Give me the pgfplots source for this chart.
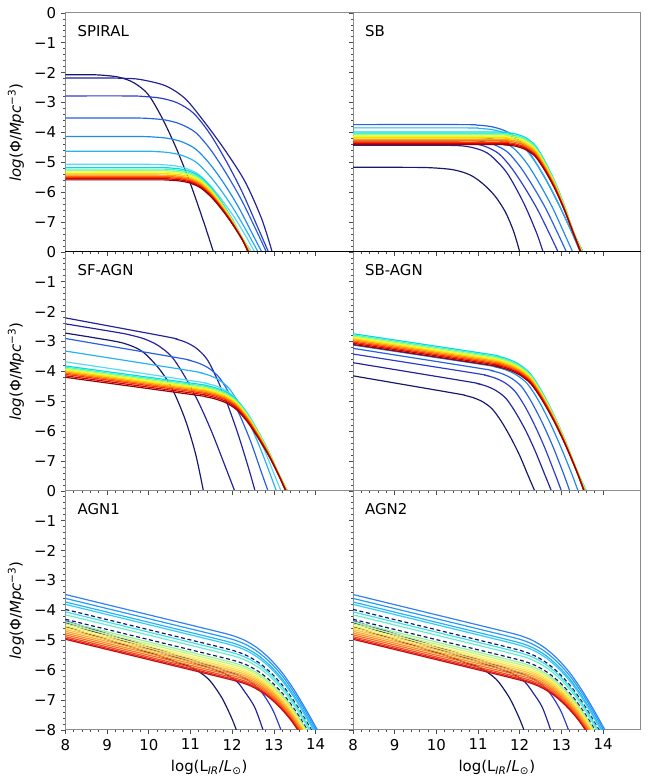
\documentclass[border=0pt]{standalone}
\usepackage{fontspec}
\setmainfont{DejaVu Sans}
\usepackage{pgfplots}
\pgfplotsset{compat=1.18}
\usepgfplotslibrary{groupplots}

\definecolor{nA}{rgb}{0.10,0.10,0.42}
\definecolor{nB}{rgb}{0.14,0.14,0.60}
\definecolor{nC}{rgb}{0.18,0.24,0.78}
\definecolor{nD}{rgb}{0.15,0.38,0.88}
\definecolor{nE}{rgb}{0.12,0.55,0.92}
\definecolor{nF}{rgb}{0.15,0.70,0.95}
\definecolor{nG}{rgb}{0.35,0.85,0.95}
\definecolor{b1}{rgb}{0.00,0.85,0.95}
\definecolor{b2}{rgb}{0.30,0.95,0.75}
\definecolor{b3}{rgb}{0.60,1.00,0.45}
\definecolor{b4}{rgb}{0.90,1.00,0.15}
\definecolor{b5}{rgb}{1.00,0.85,0.00}
\definecolor{b6}{rgb}{1.00,0.65,0.00}
\definecolor{b7}{rgb}{1.00,0.45,0.00}
\definecolor{b8}{rgb}{1.00,0.20,0.00}
\definecolor{b9}{rgb}{0.85,0.00,0.00}
\definecolor{b10}{rgb}{0.60,0.00,0.00}
\definecolor{a1}{rgb}{0.20,0.50,0.95}
\definecolor{a2}{rgb}{0.15,0.60,0.95}
\definecolor{a3}{rgb}{0.15,0.70,0.95}
\definecolor{a4}{rgb}{0.20,0.80,0.95}
\definecolor{a6}{rgb}{0.25,0.87,0.90}
\definecolor{a7}{rgb}{0.40,0.92,0.80}
\definecolor{a9}{rgb}{0.58,0.95,0.60}
\definecolor{a10}{rgb}{0.78,0.96,0.45}
\definecolor{a11}{rgb}{0.95,0.95,0.35}
\definecolor{a12}{rgb}{1.00,0.86,0.28}
\definecolor{a13}{rgb}{1.00,0.76,0.22}
\definecolor{a14}{rgb}{1.00,0.66,0.16}
\definecolor{a15}{rgb}{1.00,0.55,0.10}
\definecolor{a16}{rgb}{1.00,0.42,0.10}
\definecolor{a17}{rgb}{0.95,0.30,0.10}
\definecolor{a18}{rgb}{0.90,0.15,0.10}
\definecolor{a19}{rgb}{0.80,0.05,0.05}

\newcommand{\agncurves}{%
\addplot[nA] coordinates {(8,-4.55)(10.2,-5.5)(10.63,-5.72)(11.03,-5.91)(11.43,-6.3)(11.75,-6.92)(11.98,-7.58)(12.10,-8)};
\addplot[nB] coordinates {(8,-4.42)(11.0,-5.72)(11.4,-5.9)(11.8,-6.1)(12.11,-6.38)(12.30,-6.72)(12.54,-7.24)(12.74,-8)};
\addplot[nC] coordinates {(8,-4.35)(11.4,-5.82)(11.8,-6.0)(12.2,-6.2)(12.5,-6.45)(12.75,-6.82)(12.98,-7.35)(13.17,-8)};
\addplot[nA,densely dashed] coordinates {(8,-3.97)(11.2,-5.058)(11.6,-5.194)(12.065,-5.362)(12.365,-5.524)(12.665,-5.776)(12.965,-6.138)(13.265,-6.61)(13.565,-7.212)(13.865,-7.914)(14.165,-8.666)};
\addplot[nA,densely dashed] coordinates {(8,-4.30)(11.2,-5.388)(11.6,-5.524)(12.11,-5.707)(12.41,-5.869)(12.71,-6.121)(13.01,-6.483)(13.31,-6.955)(13.61,-7.557)(13.91,-8.259)};
\addplot[a1] coordinates {(8,-3.47)(11.2,-4.558)(11.6,-4.694)(12.0,-4.84)(12.3,-5.002)(12.6,-5.254)(12.9,-5.616)(13.2,-6.088)(13.5,-6.69)(13.8,-7.392)(14.1,-8.144)};
\addplot[a2] coordinates {(8,-3.60)(11.2,-4.688)(11.6,-4.824)(12.02,-4.977)(12.32,-5.139)(12.62,-5.391)(12.92,-5.753)(13.22,-6.225)(13.52,-6.827)(13.82,-7.529)(14.12,-8.281)};
\addplot[a3] coordinates {(8,-3.72)(11.2,-4.808)(11.6,-4.944)(12.03,-5.10)(12.33,-5.262)(12.63,-5.514)(12.93,-5.876)(13.23,-6.348)(13.53,-6.95)(13.83,-7.652)(14.13,-8.404)};
\addplot[a4] coordinates {(8,-3.80)(11.2,-4.888)(11.6,-5.024)(12.04,-5.184)(12.34,-5.346)(12.64,-5.598)(12.94,-5.96)(13.24,-6.432)(13.54,-7.034)(13.84,-7.736)(14.14,-8.488)};
\addplot[a6] coordinates {(8,-4.05)(11.2,-5.138)(11.6,-5.274)(12.075,-5.446)(12.375,-5.608)(12.675,-5.86)(12.975,-6.222)(13.275,-6.694)(13.575,-7.296)(13.875,-7.998)(14.175,-8.75)};
\addplot[a7] coordinates {(8,-4.15)(11.2,-5.238)(11.6,-5.374)(12.09,-5.551)(12.39,-5.713)(12.69,-5.965)(12.99,-6.327)(13.29,-6.799)(13.59,-7.401)(13.89,-8.103)};
\addplot[a9] coordinates {(8,-4.38)(11.2,-5.468)(11.6,-5.604)(12.12,-5.791)(12.42,-5.953)(12.72,-6.205)(13.02,-6.567)(13.32,-7.039)(13.62,-7.641)(13.92,-8.343)};
\addplot[a10] coordinates {(8,-4.45)(11.2,-5.538)(11.6,-5.674)(12.13,-5.864)(12.43,-6.026)(12.73,-6.278)(13.03,-6.64)(13.33,-7.112)(13.63,-7.714)(13.93,-8.416)};
\addplot[a11] coordinates {(8,-4.52)(11.2,-5.608)(11.6,-5.744)(12.14,-5.938)(12.44,-6.1)(12.74,-6.352)(13.04,-6.714)(13.34,-7.186)(13.64,-7.788)(13.94,-8.49)};
\addplot[a12] coordinates {(8,-4.58)(11.2,-5.668)(11.6,-5.804)(12.15,-6.001)(12.45,-6.163)(12.75,-6.415)(13.05,-6.777)(13.35,-7.249)(13.65,-7.851)(13.95,-8.553)};
\addplot[a13] coordinates {(8,-4.64)(11.2,-5.728)(11.6,-5.864)(12.155,-6.063)(12.455,-6.225)(12.755,-6.477)(13.055,-6.839)(13.355,-7.311)(13.655,-7.913)(13.955,-8.615)};
\addplot[a14] coordinates {(8,-4.70)(11.2,-5.788)(11.6,-5.924)(12.165,-6.126)(12.465,-6.288)(12.765,-6.54)(13.065,-6.902)(13.365,-7.374)(13.665,-7.976)(13.965,-8.678)};
\addplot[a15] coordinates {(8,-4.76)(11.2,-5.848)(11.6,-5.984)(12.17,-6.188)(12.47,-6.35)(12.77,-6.602)(13.07,-6.964)(13.37,-7.436)(13.67,-8.038)};
\addplot[a16] coordinates {(8,-4.82)(11.2,-5.908)(11.6,-6.044)(12.18,-6.251)(12.48,-6.413)(12.78,-6.665)(13.08,-7.027)(13.38,-7.499)(13.68,-8.101)};
\addplot[a17] coordinates {(8,-4.88)(11.2,-5.968)(11.6,-6.104)(12.185,-6.313)(12.485,-6.475)(12.785,-6.727)(13.085,-7.089)(13.385,-7.561)(13.685,-8.163)};
\addplot[a18] coordinates {(8,-4.93)(11.2,-6.018)(11.6,-6.154)(12.19,-6.365)(12.49,-6.527)(12.79,-6.779)(13.09,-7.141)(13.39,-7.613)(13.69,-8.215)};
\addplot[a19] coordinates {(8,-4.97)(11.2,-6.058)(11.6,-6.194)(12.2,-6.408)(12.5,-6.57)(12.8,-6.822)(13.1,-7.184)(13.4,-7.656)(13.7,-8.258)};
}

\begin{document}
\fontsize{11.3}{13.5}\selectfont
\begin{tikzpicture}
\begin{groupplot}[
  group style={group size=2 by 3, horizontal sep=0pt, vertical sep=0pt,
    xticklabels at=edge bottom, yticklabels at=edge left},
  width=217.5pt, height=180.75pt, scale only axis,
  xmin=8, xmax=14.9, ymin=-8, ymax=0,
  xtick={8,9,10,11,12,13,14}, xticklabels={8,9,10,11,12,13,14},
  ytick={-8,-7,-6,-5,-4,-3,-2,-1,0},
  minor x tick num=4, minor y tick num=4,
  tick align=outside, tick pos=left,
  major tick length=3pt, minor tick length=1.5pt,
  tick style={black!70, line width=0.5pt},
  axis line style={black!45, line width=0.6pt},
  clip mode=individual,
  every axis plot/.append style={line width=0.9pt, smooth},
]
% ---------------- SPIRAL
\nextgroupplot[ylabel={\textit{log}(Φ/\textit{Mpc}\textsuperscript{−3})},
  yticklabels={{},−7,−6,−5,−4,−3,−2,−1,0}]
\addplot[nA] coordinates {(8,-2.07)(8.63,-2.07)(8.96,-2.094)(9.3,-2.159)(9.64,-2.337)(9.98,-2.722)(10.31,-3.493)(10.65,-4.501)(10.99,-5.687)(11.33,-7.051)(11.55,-8)};
\addplot[nB] coordinates {(8,-2.18)(8.9,-2.18)(9.4,-2.19)(9.8,-2.23)(10.4,-2.44)(10.88,-2.88)(11.36,-3.70)(11.83,-4.60)(12.31,-5.65)(12.71,-6.90)(12.96,-8)};
\addplot[nC] coordinates {(8,-2.78)(9.53,-2.78)(9.91,-2.801)(10.3,-2.858)(10.69,-3.015)(11.07,-3.354)(11.46,-4.033)(11.84,-4.920)(12.23,-5.964)(12.61,-7.165)(12.87,-8)};
\addplot[nD] coordinates {(8,-3.52)(9.67,-3.52)(10.04,-3.538)(10.4,-3.587)(10.76,-3.722)(11.13,-4.013)(11.49,-4.595)(11.85,-5.357)(12.22,-6.253)(12.58,-7.283)(12.82,-8)};
\addplot[nE] coordinates {(8,-4.14)(9.77,-4.14)(10.11,-4.155)(10.45,-4.198)(10.79,-4.314)(11.13,-4.565)(11.47,-5.066)(11.81,-5.723)(12.15,-6.495)(12.48,-7.382)(12.71,-8)};
\addplot[nF] coordinates {(8,-4.63)(9.86,-4.63)(10.18,-4.643)(10.5,-4.681)(10.82,-4.782)(11.14,-5.001)(11.45,-5.439)(11.77,-6.012)(12.09,-6.686)(12.41,-7.461)(12.62,-8)};
\addplot[nG] coordinates {(8,-5.07)(10.02,-5.07)(10.31,-5.082)(10.6,-5.114)(10.89,-5.202)(11.18,-5.392)(11.47,-5.773)(11.76,-6.271)(12.06,-6.857)(12.35,-7.531)(12.54,-8)};
\addplot[b1] coordinates {(8,-5.18)(10.24,-5.18)(10.49,-5.191)(10.74,-5.222)(10.99,-5.307)(11.24,-5.490)(11.50,-5.857)(11.75,-6.336)(12.0,-6.900)(12.25,-7.549)(12.46,-8)};
\addplot[b2] coordinates {(8,-5.23)(10.24,-5.23)(10.49,-5.241)(10.74,-5.272)(10.99,-5.355)(11.24,-5.535)(11.50,-5.895)(11.75,-6.366)(12.0,-6.920)(12.25,-7.557)(12.45,-8)};
\addplot[b3] coordinates {(8,-5.28)(10.24,-5.28)(10.49,-5.291)(10.74,-5.321)(10.99,-5.402)(11.24,-5.579)(11.50,-5.933)(11.75,-6.395)(12.0,-6.939)(12.25,-7.565)(12.44,-8)};
\addplot[b4] coordinates {(8,-5.33)(10.24,-5.33)(10.49,-5.341)(10.74,-5.370)(10.99,-5.450)(11.24,-5.624)(11.50,-5.971)(11.75,-6.425)(12.0,-6.959)(12.25,-7.573)(12.43,-8)};
\addplot[b5] coordinates {(8,-5.38)(10.24,-5.38)(10.49,-5.390)(10.74,-5.419)(10.99,-5.498)(11.24,-5.668)(11.50,-6.009)(11.75,-6.454)(12.0,-6.978)(12.25,-7.581)(12.42,-8)};
\addplot[b6] coordinates {(8,-5.43)(10.24,-5.43)(10.49,-5.440)(10.74,-5.469)(10.99,-5.546)(11.24,-5.713)(11.50,-6.047)(11.75,-6.484)(12.0,-6.998)(12.25,-7.589)(12.41,-8)};
\addplot[b7] coordinates {(8,-5.47)(10.24,-5.47)(10.49,-5.480)(10.74,-5.508)(10.99,-5.584)(11.24,-5.748)(11.50,-6.077)(11.75,-6.507)(12.0,-7.013)(12.25,-7.595)(12.40,-8)};
\addplot[b8] coordinates {(8,-5.51)(10.24,-5.51)(10.49,-5.520)(10.74,-5.547)(10.99,-5.622)(11.24,-5.784)(11.50,-6.108)(11.75,-6.531)(12.0,-7.029)(12.25,-7.602)(12.39,-8)};
\addplot[b9] coordinates {(8,-5.55)(10.24,-5.55)(10.49,-5.560)(10.74,-5.587)(10.99,-5.660)(11.24,-5.820)(11.50,-6.138)(11.75,-6.555)(12.0,-7.045)(12.25,-7.608)(12.38,-8)};
\addplot[b10] coordinates {(8,-5.59)(10.24,-5.59)(10.49,-5.600)(10.74,-5.626)(10.99,-5.698)(11.24,-5.855)(11.50,-6.168)(11.75,-6.578)(12.0,-7.060)(12.25,-7.614)(12.38,-8)};
\node[anchor=west] at (rel axis cs:0.024,0.925) {SPIRAL};
% ---------------- SB
\nextgroupplot
\addplot[nA] coordinates {(8,-5.17)(9.0,-5.17)(9.8,-5.18)(10.4,-5.25)(10.8,-5.42)(11.1,-5.7)(11.4,-6.12)(11.65,-6.65)(11.85,-7.3)(12.0,-8)};
\addplot[nB] coordinates {(8,-4.43)(9.8,-4.43)(10.6,-4.45)(11.0,-4.56)(11.29,-4.76)(11.69,-5.35)(12.09,-6.35)(12.40,-7.35)(12.56,-8)};
\addplot[nC] coordinates {(8,-4.32)(10.29,-4.32)(10.60,-4.335)(10.9,-4.375)(11.20,-4.486)(11.51,-4.725)(11.81,-5.203)(12.11,-5.829)(12.42,-6.565)(12.72,-7.411)(12.92,-8)};
\addplot[nD] coordinates {(8,-4.25)(10.49,-4.25)(10.80,-4.265)(11.1,-4.306)(11.40,-4.419)(11.71,-4.663)(12.01,-5.15)(12.31,-5.788)(12.62,-6.538)(12.92,-7.40)(13.12,-8)};
\addplot[nE] coordinates {(8,-4.15)(10.71,-4.15)(11.0,-4.165)(11.3,-4.208)(11.60,-4.323)(11.89,-4.574)(12.19,-5.074)(12.48,-5.729)(12.78,-6.499)(13.07,-7.384)(13.27,-8)};
\addplot[nD] coordinates {(8,-3.74)(10.66,-3.74)(10.98,-3.757)(11.3,-3.804)(11.62,-3.932)(11.95,-4.209)(12.27,-4.762)(12.59,-5.487)(12.91,-6.339)(13.24,-7.318)(13.45,-8)};
\addplot[nF] coordinates {(8,-3.85)(10.72,-3.85)(11.03,-3.867)(11.35,-3.912)(11.67,-4.037)(11.98,-4.307)(12.30,-4.846)(12.62,-5.552)(12.93,-6.382)(13.25,-7.336)(13.46,-8)};
\addplot[b1] coordinates {(8,-3.99)(11.43,-3.99)(11.67,-4.006)(11.9,-4.050)(12.13,-4.170)(12.37,-4.431)(12.60,-4.952)(12.84,-5.634)(13.07,-6.436)(13.30,-7.358)(13.52,-8)};
\addplot[b2] coordinates {(8,-4.04)(11.43,-4.04)(11.67,-4.056)(11.9,-4.099)(12.13,-4.218)(12.37,-4.476)(12.60,-4.990)(12.84,-5.664)(13.07,-6.456)(13.30,-7.366)(13.51,-8)};
\addplot[b3] coordinates {(8,-4.08)(11.43,-4.08)(11.67,-4.096)(11.9,-4.139)(12.13,-4.256)(12.37,-4.511)(12.60,-5.021)(12.84,-5.687)(13.07,-6.471)(13.30,-7.373)(13.50,-8)};
\addplot[b4] coordinates {(8,-4.13)(11.43,-4.13)(11.67,-4.145)(11.9,-4.188)(12.13,-4.304)(12.37,-4.556)(12.60,-5.059)(12.84,-5.717)(13.07,-6.491)(13.30,-7.381)(13.50,-8)};
\addplot[b5] coordinates {(8,-4.18)(11.43,-4.18)(11.67,-4.195)(11.9,-4.237)(12.13,-4.352)(12.37,-4.600)(12.60,-5.097)(12.84,-5.746)(13.07,-6.510)(13.30,-7.389)(13.49,-8)};
\addplot[b6] coordinates {(8,-4.23)(11.43,-4.23)(11.67,-4.245)(11.9,-4.287)(12.13,-4.400)(12.37,-4.645)(12.60,-5.135)(12.84,-5.776)(13.07,-6.530)(13.30,-7.397)(13.48,-8)};
\addplot[b7] coordinates {(8,-4.28)(11.43,-4.28)(11.67,-4.295)(11.9,-4.336)(12.13,-4.447)(12.37,-4.689)(12.60,-5.173)(12.84,-5.805)(13.07,-6.549)(13.30,-7.405)(13.48,-8)};
\addplot[b8] coordinates {(8,-4.33)(11.43,-4.33)(11.67,-4.345)(11.9,-4.385)(12.13,-4.495)(12.37,-4.734)(12.60,-5.211)(12.84,-5.835)(13.07,-6.569)(13.30,-7.413)(13.47,-8)};
\addplot[b9] coordinates {(8,-4.37)(11.43,-4.37)(11.67,-4.385)(11.9,-4.424)(12.13,-4.533)(12.37,-4.769)(12.60,-5.241)(12.84,-5.858)(13.07,-6.584)(13.30,-7.419)(13.46,-8)};
\addplot[b10] coordinates {(8,-4.41)(11.43,-4.41)(11.67,-4.424)(11.9,-4.464)(12.13,-4.572)(12.37,-4.805)(12.60,-5.272)(12.84,-5.882)(13.07,-6.600)(13.30,-7.426)(13.46,-8)};
\node[anchor=west] at (rel axis cs:0.024,0.925) {SB};
% ---------------- SF-AGN
\nextgroupplot[ylabel={\textit{log}(Φ/\textit{Mpc}\textsuperscript{−3})},
  yticklabels={{},−7,−6,−5,−4,−3,−2,−1,0}]
\addplot[nA] coordinates {(8,-2.72)(8.8,-2.9)(9.4,-3.06)(9.84,-3.33)(10.24,-3.9)(10.56,-4.58)(10.87,-5.6)(11.12,-6.75)(11.31,-8)};
\addplot[nB] coordinates {(8,-2.41)(9.25,-2.698)(9.58,-2.792)(9.9,-2.917)(10.22,-3.131)(10.55,-3.509)(10.87,-4.187)(11.20,-5.055)(11.52,-6.060)(11.84,-7.204)(12.06,-8)};
\addplot[nB] coordinates {(8,-2.21)(10.41,-2.837)(10.65,-2.917)(10.9,-3.033)(11.15,-3.236)(11.40,-3.601)(11.64,-4.262)(11.89,-5.110)(12.14,-6.096)(12.39,-7.221)(12.55,-8)};
\addplot[nD] coordinates {(8,-2.90)(10.70,-3.548)(10.95,-3.624)(11.2,-3.727)(11.45,-3.905)(11.70,-4.221)(11.95,-4.792)(12.20,-5.521)(12.45,-6.368)(12.69,-7.331)(12.86,-8)};
\addplot[nF] coordinates {(8,-3.32)(10.97,-3.973)(11.21,-4.040)(11.45,-4.133)(11.69,-4.293)(11.93,-4.577)(12.17,-5.093)(12.42,-5.754)(12.66,-6.521)(12.90,-7.394)(13.06,-8)};
\addplot[nG] coordinates {(8,-3.68)(11.13,-4.337)(11.36,-4.399)(11.6,-4.485)(11.84,-4.632)(12.07,-4.891)(12.31,-5.361)(12.54,-5.959)(12.78,-6.657)(13.01,-7.449)(13.17,-8)};
\addplot[b1] coordinates {(8,-3.82)(11.09,-4.407)(11.35,-4.470)(11.6,-4.552)(11.86,-4.696)(12.11,-4.950)(12.37,-5.411)(12.62,-5.999)(12.88,-6.683)(13.13,-7.460)(13.33,-8)};
\addplot[b2] coordinates {(8,-3.86)(11.09,-4.447)(11.35,-4.510)(11.6,-4.591)(11.86,-4.734)(12.11,-4.985)(12.37,-5.442)(12.62,-6.022)(12.88,-6.698)(13.13,-7.467)(13.32,-8)};
\addplot[b3] coordinates {(8,-3.90)(11.09,-4.487)(11.35,-4.549)(11.6,-4.631)(11.86,-4.773)(12.11,-5.021)(12.37,-5.472)(12.62,-6.046)(12.88,-6.714)(13.13,-7.473)(13.32,-8)};
\addplot[b4] coordinates {(8,-3.94)(11.09,-4.527)(11.35,-4.589)(11.6,-4.670)(11.86,-4.811)(12.11,-5.057)(12.37,-5.502)(12.62,-6.070)(12.88,-6.730)(13.13,-7.479)(13.31,-8)};
\addplot[b5] coordinates {(8,-3.98)(11.09,-4.567)(11.35,-4.629)(11.6,-4.709)(11.86,-4.849)(12.11,-5.092)(12.37,-5.533)(12.62,-6.093)(12.88,-6.745)(13.13,-7.486)(13.31,-8)};
\addplot[b6] coordinates {(8,-4.02)(11.09,-4.607)(11.35,-4.669)(11.6,-4.749)(11.86,-4.887)(12.11,-5.128)(12.37,-5.563)(12.62,-6.117)(12.88,-6.761)(13.13,-7.492)(13.30,-8)};
\addplot[b7] coordinates {(8,-4.06)(11.09,-4.647)(11.35,-4.709)(11.6,-4.788)(11.86,-4.925)(12.11,-5.163)(12.37,-5.594)(12.62,-6.140)(12.88,-6.776)(13.13,-7.499)(13.30,-8)};
\addplot[b8] coordinates {(8,-4.10)(11.09,-4.687)(11.35,-4.749)(11.6,-4.828)(11.86,-4.964)(12.11,-5.199)(12.37,-5.624)(12.62,-6.164)(12.88,-6.792)(13.13,-7.505)(13.29,-8)};
\addplot[b9] coordinates {(8,-4.15)(11.09,-4.737)(11.35,-4.798)(11.6,-4.877)(11.86,-5.011)(12.11,-5.244)(12.37,-5.662)(12.62,-6.194)(12.88,-6.812)(13.13,-7.513)(13.29,-8)};
\addplot[b10] coordinates {(8,-4.20)(11.09,-4.787)(11.35,-4.848)(11.6,-4.926)(11.86,-5.059)(12.11,-5.288)(12.37,-5.700)(12.62,-6.223)(12.88,-6.831)(13.13,-7.521)(13.28,-8)};
\node[anchor=west] at (rel axis cs:0.024,0.925) {SF-AGN};
% ---------------- SB-AGN
\nextgroupplot
\addplot[nA] coordinates {(8,-4.15)(10.46,-4.740)(10.68,-4.804)(10.9,-4.888)(11.12,-5.025)(11.34,-5.260)(11.56,-5.677)(11.78,-6.207)(12.00,-6.820)(12.21,-7.515)(12.36,-8)};
\addplot[nB] coordinates {(8,-3.71)(10.73,-4.338)(10.97,-4.406)(11.2,-4.494)(11.43,-4.643)(11.67,-4.905)(11.90,-5.374)(12.14,-5.972)(12.37,-6.664)(12.60,-7.452)(12.76,-8)};
\addplot[nC] coordinates {(8,-3.42)(10.92,-4.062)(11.16,-4.129)(11.4,-4.220)(11.64,-4.378)(11.88,-4.657)(12.12,-5.161)(12.36,-5.806)(12.60,-6.555)(12.84,-7.408)(13.0,-8)};
\addplot[nD] coordinates {(8,-3.23)(11.06,-3.903)(11.30,-3.971)(11.55,-4.065)(11.80,-4.229)(12.05,-4.520)(12.29,-5.044)(12.54,-5.716)(12.79,-6.496)(13.04,-7.385)(13.2,-8)};
\addplot[nE] coordinates {(8,-3.12)(11.13,-3.777)(11.39,-3.847)(11.65,-3.943)(11.91,-4.110)(12.18,-4.410)(12.44,-4.951)(12.70,-5.643)(12.96,-6.447)(13.23,-7.365)(13.4,-8)};
\addplot[b1] coordinates {(8,-2.74)(11.15,-3.402)(11.42,-3.474)(11.7,-3.579)(11.98,-3.761)(12.26,-4.086)(12.53,-4.673)(12.81,-5.429)(13.09,-6.307)(13.37,-7.307)(13.60,-8)};
\addplot[b2] coordinates {(8,-2.78)(11.15,-3.442)(11.42,-3.514)(11.7,-3.618)(11.98,-3.799)(12.26,-4.121)(12.53,-4.704)(12.81,-5.452)(13.09,-6.322)(13.37,-7.314)(13.59,-8)};
\addplot[b3] coordinates {(8,-2.82)(11.15,-3.482)(11.42,-3.554)(11.7,-3.658)(11.98,-3.837)(12.26,-4.157)(12.53,-4.734)(12.81,-5.476)(13.09,-6.338)(13.37,-7.320)(13.58,-8)};
\addplot[b4] coordinates {(8,-2.86)(11.15,-3.522)(11.42,-3.594)(11.7,-3.697)(11.98,-3.875)(12.26,-4.192)(12.53,-4.765)(12.81,-5.499)(13.09,-6.353)(13.37,-7.327)(13.57,-8)};
\addplot[b5] coordinates {(8,-2.90)(11.15,-3.562)(11.42,-3.633)(11.7,-3.737)(11.98,-3.914)(12.26,-4.228)(12.53,-4.795)(12.81,-5.523)(13.09,-6.369)(13.37,-7.333)(13.56,-8)};
\addplot[b6] coordinates {(8,-2.94)(11.15,-3.602)(11.42,-3.673)(11.7,-3.776)(11.98,-3.952)(12.26,-4.264)(12.53,-4.825)(12.81,-5.547)(13.09,-6.385)(13.37,-7.339)(13.56,-8)};
\addplot[b7] coordinates {(8,-2.98)(11.15,-3.642)(11.42,-3.713)(11.7,-3.815)(11.98,-3.990)(12.26,-4.299)(12.53,-4.856)(12.81,-5.570)(13.09,-6.400)(13.37,-7.346)(13.55,-8)};
\addplot[b8] coordinates {(8,-3.02)(11.15,-3.682)(11.42,-3.753)(11.7,-3.855)(11.98,-4.028)(12.26,-4.335)(12.53,-4.886)(12.81,-5.594)(13.09,-6.416)(13.37,-7.352)(13.55,-8)};
\addplot[b9] coordinates {(8,-3.06)(11.15,-3.722)(11.42,-3.793)(11.7,-3.894)(11.98,-4.066)(12.26,-4.370)(12.53,-4.917)(12.81,-5.617)(13.09,-6.431)(13.37,-7.359)(13.54,-8)};
\addplot[b10] coordinates {(8,-3.10)(11.15,-3.762)(11.42,-3.833)(11.7,-3.934)(11.98,-4.105)(12.26,-4.406)(12.53,-4.947)(12.81,-5.641)(13.09,-6.447)(13.37,-7.365)(13.54,-8)};
\node[anchor=west] at (rel axis cs:0.024,0.925) {SB-AGN};
% ---------------- AGN1
\nextgroupplot[ylabel={\textit{log}(Φ/\textit{Mpc}\textsuperscript{−3})},
  yticklabels={−8,−7,−6,−5,−4,−3,−2,−1,0},
  xlabel={log(L\textsubscript{\textit{IR}}/\textit{L}\textsubscript{⊙})}]
\agncurves
\node[anchor=west] at (rel axis cs:0.024,0.925) {AGN1};
% ---------------- AGN2
\nextgroupplot[xlabel={log(L\textsubscript{\textit{IR}}/\textit{L}\textsubscript{⊙})}]
\agncurves
\node[anchor=west] at (rel axis cs:0.024,0.925) {AGN2};
\end{groupplot}
\draw[black, line width=0.9pt] (group c1r1.south west) -- (group c2r1.south east);
\path (group c1r1.north west) ++(-49.5pt,9.75pt) coordinate (tl);
\path (group c2r3.south east) ++(11.25pt,-33pt) coordinate (br);
\path (tl) rectangle (br);
\end{tikzpicture}
\end{document}
